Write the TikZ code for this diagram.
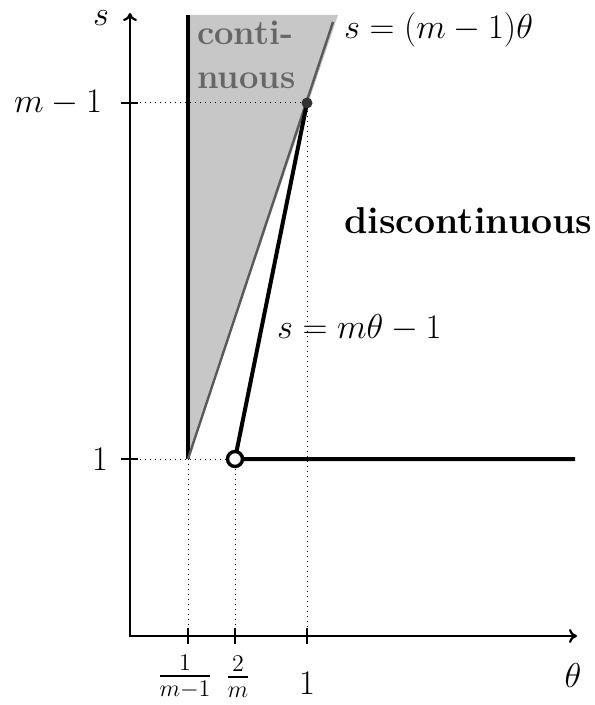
\documentclass[tikz,border=0pt]{standalone}
\usepackage{amsmath}
\usetikzlibrary{arrows.meta, positioning, calc}

\begin{document}
\begin{tikzpicture}[
    x=0.5pt, y=-0.5pt,
    axis/.style={{To[length=4pt,width=7pt]}-{To[length=4pt,width=7pt]}, line width=1.1pt},
    guide/.style={dotted, line width=0.5pt},
    curve/.style={line width=2pt},
    tick/.style={line width=0.6pt},
    lbl/.style={font=\LARGE},
    ticklbl/.style={font=\LARGE, inner sep=0.5pt},
    hole/.style={circle, draw, fill=white, line width=1.7pt, minimum size=7.5pt, inner sep=0pt},
    dot/.style={circle, fill=black!80, minimum size=5.5pt, inner sep=0pt},
]
\useasboundingbox (0,0) rectangle (594,705);

% corner points of the region
\coordinate (O) at (130,636);
\coordinate (ytop) at (130,13);
\coordinate (xend) at (577,636);
\coordinate (A) at (188,459);
\coordinate (B) at (235,459);
\coordinate (C) at (307,103);
\coordinate (D) at (333,22);
\coordinate (E) at (575,459);
\coordinate (Atop) at (188,15);
\coordinate (Dtop) at (338,15);

% continuous wedge
\fill[black!22] (A) -- (Atop) -- (Dtop) -- cycle;
\draw[line width=1.6pt] (A) -- (Atop);
\draw[black!65, line width=1.2pt] (A) -- (D);

% axes and ticks
\draw[axis] (ytop) -- (O) -- (xend);
\foreach \p in {A,B,C}
    \draw[tick] ($(\p |- O)+(0,-8)$) -- ($(\p |- O)+(0,8)$);
\foreach \p in {A,C}
    \draw[tick] ($(\p -| O)+(-9,0)$) -- ($(\p -| O)+(8,0)$);

% guide lines
\draw[guide] (C -| O) -- (C) -- (C |- O);
\draw[guide] (A -| O) -- (B);
\draw[guide] (A) -- (A |- O);
\draw[guide] (B) -- (B |- O);

% s = m theta - 1 and s = 1
\draw[curve] (C) -- (B) -- (E);
\node[hole] (Bh) at (B) {};
\node[dot] (Cd) at (C) {};

% labels
\node[ticklbl] (sl) at (101,18) {$s$};
\node[lbl] (tl) at (573,675) {$\theta$};
\node[lbl, anchor=east] (ym) at (109,103) {$m-1$};
\node[lbl, anchor=east] (y1) at (115,459) {$1$};
\node[ticklbl] (xa) at (185,677) {$\frac{1}{m-1}$};
\node[ticklbl] (xb) at (238,677) {$\frac{2}{m}$};
\node[ticklbl] (xc) at (307,683) {$1$};
\node[lbl, anchor=west] (la) at (337,30) {$s=(m-1)\theta$};
\node[lbl, anchor=west] (lb) at (270,328) {$s=m\theta-1$};
\node[lbl, anchor=west, font=\fontsize{18.7pt}{22pt}\selectfont\bfseries] (dc) at (337,221) {discontinuous};
\node[lbl, anchor=west, align=left, font=\LARGE\bfseries, text=black!60] (ct) at (190,55) {conti-\\nuous};
\end{tikzpicture}
\end{document}
